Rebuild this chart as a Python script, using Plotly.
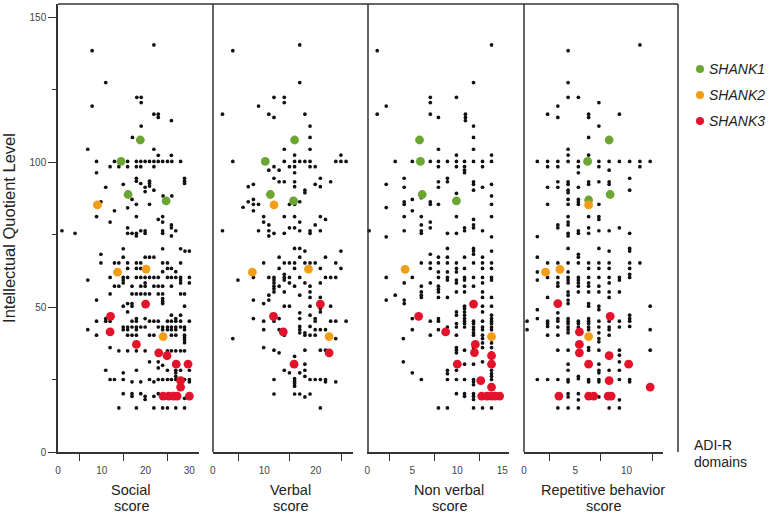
import plotly.graph_objects as go

# ---------------- data (x = ADI-R domain score, y = IQ) ----------------
# black dots, stored as rows: (IQ, [scores])
social_rows = [
    (140.4, [21.9]), (138.4, [7.8]), (127.4, [10.9]), (122.3, [18.0, 19.0]), (120.5, [19.0]),
    (119.3, [7.8]), (116.5, [21.9, 22.9]), (115.4, [22.9]), (114.3, [25.9]), (112.4, [19.0]),
    (108.5, [17.0]), (104.4, [6.8, 21.9]), (102.3, [22.9, 25.9]),
    (100.2, [8.8, 12.9, 15.9, 17.9, 18.9, 19.9, 20.9, 21.9, 22.9, 23.9, 25.0, 26.0, 28.0]),
    (98.4, [11.9, 13.9, 15.9, 17.9, 18.9, 21.9]), (96.3, [8.8]),
    (94.4, [17.9, 28.9]), (93.4, [17.9, 20.9, 28.9]), (92.6, [18.9, 20.9, 28.9]), (92.3, [14.9]),
    (91.7, [20.9]), (91.3, [10.9, 19.9]), (90.3, [21.9]), (89.8, [19.9]), (88.3, [24.0, 26.0]),
    (87.1, [16.9]), (86.3, [9.8]), (85.4, [17.9, 20.9]), (84.2, [15.9]), (83.2, [12.9]),
    (81.2, [8.8, 17.9, 23.9]), (80.2, [22.9]), (79.3, [11.9, 23.9]), (78.3, [25.9]),
    (77.3, [15.9, 25.9]), (76.3, [0.9, 18.9, 19.9, 23.9, 26.9]),
    (75.4, [3.9, 15.9, 16.9, 17.9, 19.9, 23.9]), (74.5, [17.9, 25.9]),
    (70.1, [14.9, 23.9, 28.0]), (69.3, [29.0, 30.0]), (68.2, [9.8]), (67.2, [14.9, 19.9, 20.9, 21.9]),
    (65.2, [9.8, 12.9, 13.9, 15.9, 17.9, 18.9, 23.9, 25.0, 28.0]),
    (63.3, [15.9, 17.9, 18.9, 25.0, 25.9]), (62.2, [23.9, 26.9]),
    (60.2, [11.9, 14.9, 15.9, 17.9, 18.9, 19.9, 20.9, 21.9, 22.9, 25.0, 25.9, 26.9, 28.0, 30.0]),
    (59.3, [6.8, 14.9, 28.0]), (58.3, [14.9, 19.9, 28.0, 30.0]),
    (57.2, [12.9, 13.9, 16.9, 18.9, 19.9, 21.9, 22.9, 23.9, 25.9]),
    (54.5, [11.9, 16.9, 17.9, 18.9, 19.9, 20.9, 22.9, 23.9, 28.0, 28.9]),
    (52.9, [23.9]), (52.4, [8.8]), (52.0, [23.9]), (51.2, [15.9, 16.9, 23.9]),
    (50.3, [14.9, 16.9, 28.9]), (48.3, [15.9]), (47.2, [25.9, 28.0]),
    (46.0, [10.9, 17.9, 19.9, 26.9]),
    (45.1, [8.8, 10.9, 11.9, 16.9, 17.9, 20.9, 21.9, 22.9, 25.0, 25.9, 26.9, 28.0, 30.0]),
    (43.1, [14.9, 15.9, 16.9, 17.9, 18.9, 19.9, 22.9, 23.9, 25.0, 25.9, 26.9, 28.0, 28.9]),
    (42.2, [6.8, 14.9, 15.9, 17.9, 23.9, 25.0, 25.9, 26.9, 28.9]),
    (40.3, [8.8, 15.9, 16.9, 17.9, 20.9, 21.9, 25.9, 26.9, 28.9]),
    (39.5, [28.9]), (38.6, [28.9]), (37.7, [28.9]), (36.0, [11.9]),
    (34.9, [13.9, 15.9, 17.9, 19.9, 25.0, 25.9, 26.9, 28.0, 28.9]),
    (31.1, [20.9, 22.9]), (29.9, [23.9]), (29.0, [22.9]),
    (28.2, [10.9, 17.9, 25.0, 26.9, 28.0, 30.0]), (27.3, [14.9, 26.9]), (26.1, [26.9]),
    (25.0, [11.9, 12.9, 14.9, 20.9, 22.9, 23.9, 25.0, 25.9, 26.9, 28.9, 30.0]),
    (24.2, [16.9, 18.9, 21.9, 30.0]),
    (20.1, [14.9, 16.9, 18.9, 22.9]), (19.2, [16.9, 19.9, 21.9, 25.0, 26.9]), (18.5, [28.9]),
    (18.1, [19.9]), (15.2, [13.9, 17.9, 21.9, 23.9, 25.0, 26.9, 28.9]),
]

verbal_rows = [
    (140.4, [16.9]), (138.4, [3.9]), (127.4, [16.9]), (122.3, [11.9, 13.9]), (120.5, [13.9]),
    (119.3, [8.9]), (116.5, [1.9, 10.9, 17.9]), (115.4, [11.9]), (112.4, [18.9]), (108.5, [18.9]),
    (104.4, [13.9, 18.9]), (102.4, [15.9, 24.9]),
    (100.2, [3.9, 13.9, 15.9, 16.9, 17.9, 18.9, 23.9, 24.9, 25.9]),
    (98.4, [11.9, 14.9, 15.9, 18.9, 19.9]), (97.2, [10.9, 12.9]), (96.3, [15.9]),
    (94.4, [11.9, 20.9]), (93.2, [12.9, 13.9, 15.9, 22.9]), (92.3, [7.9, 19.9]),
    (91.5, [6.9, 15.9, 20.9]), (90.3, [17.9]), (89.4, [17.9]),
    (87.1, [7.9, 15.9]), (86.3, [6.9, 16.9]), (85.4, [7.9, 8.9, 14.9, 15.9]), (84.4, [5.9]),
    (83.2, [7.9]), (81.2, [9.9, 13.9, 15.9, 20.9]), (80.2, [21.9]), (79.3, [9.9, 16.9]),
    (78.3, [10.9, 19.9]), (77.3, [14.9, 15.9]), (76.3, [1.9, 8.9, 10.9, 16.9, 18.9, 20.9]),
    (75.4, [11.9, 13.9, 18.9]), (74.5, [10.9]),
    (70.2, [15.9, 16.9]), (69.3, [17.9, 24.9]), (67.2, [12.9, 16.9, 21.9]),
    (65.2, [9.9, 13.9, 14.9, 15.9, 17.9, 18.9, 19.9, 23.9]),
    (63.3, [12.9, 15.9, 20.9, 24.9]), (61.3, [13.9]),
    (60.2, [7.9, 10.9, 11.9, 13.9, 14.9, 16.9, 21.9, 22.9, 23.9]),
    (59.3, [4.9, 11.9, 13.9]), (58.3, [11.9, 14.9, 17.9, 20.9]), (57.2, [11.9, 12.9, 15.9, 18.9]),
    (56.3, [11.9]), (55.2, [11.9, 13.9, 18.9]), (54.1, [10.9, 16.9]), (53.3, [18.9, 20.9]),
    (52.4, [7.9, 10.9]), (51.2, [9.9]), (50.3, [13.9, 14.9, 18.9, 22.9]), (49.5, [20.9]),
    (48.3, [20.9]), (48.0, [16.9]), (47.2, [18.9]), (46.0, [7.9, 12.9, 16.9, 19.9]),
    (45.1, [9.9, 11.9, 19.9, 22.9, 23.9, 25.9]), (43.3, [16.9, 18.9]),
    (42.2, [9.9, 12.9, 16.9, 19.9, 20.9, 21.9]), (41.1, [13.9, 16.9, 17.9]),
    (40.3, [13.9, 17.9, 18.9, 19.9]), (39.1, [3.9, 23.9]),
    (36.0, [9.9]), (35.1, [11.9, 17.9, 20.9, 21.9]), (34.2, [12.9]), (33.0, [15.9]),
    (30.3, [17.9]), (28.2, [13.9, 17.9]), (27.3, [14.9, 16.9]), (26.1, [17.9]),
    (25.3, [15.9]), (25.0, [11.9, 18.9, 19.9, 20.9, 21.9]), (24.4, [15.9]), (24.2, [21.9, 23.9]),
    (23.6, [15.9]), (22.7, [15.9]), (20.0, [11.9, 15.9, 16.9, 18.9]), (19.0, [17.9]),
    (15.2, [20.9]),
]

nonverbal_rows = [
    (140.4, [13.8]), (138.4, [1.1]), (127.4, [11.8]), (122.3, [7.0, 9.9]), (120.5, [7.0]),
    (119.3, [2.1]), (116.5, [1.1, 7.0, 10.9]), (115.4, [7.9, 10.9]), (114.3, [10.9]),
    (112.4, [11.8]), (108.5, [11.8]), (104.4, [7.9, 11.8]), (102.4, [9.9, 13.8]),
    (100.2, [3.1, 5.0, 7.0, 7.9, 8.9, 9.9, 10.8, 11.8, 12.8, 13.8]),
    (98.4, [7.9, 9.9, 10.8, 12.8]), (97.2, [10.8]), (96.3, [10.8]),
    (94.4, [4.1, 8.9]), (93.2, [7.9, 8.9, 11.8]), (92.3, [2.1, 11.8, 13.8]),
    (91.3, [4.1, 7.9, 12.8]), (90.3, [11.8]), (89.2, [9.9]), (88.3, [13.8]),
    (87.7, [6.0]), (87.1, [5.0]), (86.3, [4.1, 7.0]), (85.4, [4.1, 7.0, 7.9, 13.8]),
    (84.3, [2.1]), (83.2, [5.0]), (81.2, [4.1, 6.0, 9.9, 13.8]), (80.2, [11.8]), (79.3, [7.0]),
    (78.3, [6.0, 11.8]), (77.3, [7.0, 10.8, 11.8]), (76.3, [0.2, 4.1, 6.0, 10.8, 12.8]),
    (75.4, [6.0, 8.9, 9.9]), (74.2, [2.1, 13.8]),
    (70.2, [8.9, 11.8]), (69.3, [11.8, 13.8]), (68.2, [7.0, 11.8]),
    (67.2, [7.9, 8.9, 10.8, 12.8]),
    (65.2, [6.0, 7.0, 7.9, 8.9, 9.9, 11.8, 12.8, 13.8]),
    (63.3, [7.0, 9.9, 10.8, 12.8, 13.8]), (62.1, [7.9, 8.9, 9.9]),
    (60.2, [2.1, 5.0, 7.9, 8.9, 10.8, 11.8, 12.8, 13.8]),
    (59.3, [8.9, 9.9, 10.8, 13.8]), (58.3, [4.1, 7.0, 9.9, 12.8]),
    (57.2, [6.0, 7.9, 10.8, 11.8]), (56.1, [7.9]), (55.2, [6.0, 7.9, 9.9, 10.8, 12.8]),
    (54.1, [3.1, 6.0]), (53.3, [6.0, 7.9, 8.9, 12.8, 13.8]), (52.4, [2.1, 4.1]), (51.2, [4.1]),
    (50.3, [10.8, 12.8, 13.8]), (49.5, [10.8]), (48.3, [9.9, 10.8, 12.8]),
    (47.2, [9.9, 10.8, 13.8]), (46.0, [5.0, 7.9, 10.8, 13.8]),
    (45.1, [7.0, 7.9, 10.8, 11.8, 12.8, 13.8]), (44.3, [9.9, 10.8, 11.8, 13.8]),
    (43.1, [8.9, 9.9, 10.8, 11.8, 12.8, 13.8]), (42.2, [5.0, 7.9, 11.8, 12.8, 13.8]),
    (41.1, [11.8]), (40.3, [7.0, 9.9, 11.8, 12.8]), (39.1, [4.0, 12.8]), (37.6, [12.8, 13.8]),
    (36.0, [9.9, 11.8, 12.8, 13.8]), (35.1, [9.9, 10.8]), (34.2, [9.9, 13.8]),
    (31.1, [4.0, 12.8]), (30.3, [10.8, 11.8]), (28.2, [8.9, 9.9, 13.8]), (27.3, [5.0]),
    (27.0, [8.9, 13.8]), (26.1, [13.8]), (25.0, [6.0, 8.9, 9.9, 10.8, 11.8, 13.8]),
    (24.2, [11.8]), (23.2, [11.8]), (20.1, [9.9, 10.8, 11.8]), (19.2, [10.8, 11.8, 12.8]),
    (18.1, [11.8]), (15.2, [7.9, 8.9, 11.8, 12.8, 13.8]),
]

repetitive_rows = [
    (140.4, [11.3]), (138.4, [4.3]), (127.4, [4.3]), (122.3, [4.3, 5.3]), (120.5, [7.3]),
    (119.3, [3.3]), (116.5, [2.3, 6.3, 9.3]), (115.4, [3.3, 6.3]), (112.4, [7.3]),
    (108.5, [6.3]), (104.4, [4.3]), (102.4, [4.3, 6.3]),
    (100.2, [1.3, 2.3, 3.3, 4.3, 5.3, 7.3, 8.3, 9.3, 10.3, 11.3, 12.3]),
    (98.4, [2.3, 3.3, 5.3, 7.3, 11.3]), (97.2, [8.3]), (96.3, [5.3]), (94.4, [10.3]),
    (93.2, [3.3, 4.3, 6.3, 7.3, 8.3]), (92.3, [4.3, 6.3, 8.3]), (91.3, [2.3, 3.3, 5.3]),
    (90.3, [4.3, 10.3]), (89.4, [4.3]), (87.1, [4.3, 5.3]), (86.3, [5.3]),
    (85.4, [2.3, 4.3, 5.3, 7.3]), (81.2, [4.3, 6.3, 7.3]), (80.2, [7.3]), (79.3, [4.3]),
    (78.3, [3.3, 4.3]), (77.3, [3.3, 6.3, 9.3]), (76.3, [5.3, 7.3, 8.3]),
    (75.4, [4.3, 5.3, 6.3, 10.3]), (74.5, [4.3]), (74.3, [1.3]),
    (70.2, [4.3, 7.3, 10.3]), (69.3, [8.3, 10.3]), (68.2, [5.3]), (67.2, [1.3, 5.3]),
    (65.2, [2.3, 3.3, 4.3, 5.3, 6.3, 7.3, 8.3, 10.3, 11.3]),
    (63.3, [6.3, 7.3, 8.3, 10.3]), (62.1, [1.3, 4.3]), (61.3, [10.3]),
    (60.2, [2.3, 3.3, 4.3, 5.3, 6.3, 7.3, 8.3, 9.3, 10.3]),
    (59.3, [1.3, 4.3, 5.3, 9.3]), (58.3, [3.3, 4.3, 5.3, 6.3, 8.3]),
    (57.2, [3.3, 5.3, 6.3, 7.3]), (55.2, [4.3, 5.3, 6.3, 7.3, 8.3, 9.3]),
    (54.1, [4.3]), (53.3, [2.3, 8.3]), (52.4, [4.3]), (51.2, [4.3, 6.3]),
    (50.3, [6.3, 7.3, 12.3]), (49.1, [1.3, 7.3]), (48.0, [3.3]), (47.2, [10.3]),
    (46.0, [1.3, 3.3, 4.3, 6.3, 10.3]), (45.1, [0.3, 2.3, 3.3, 4.3, 5.3, 6.3, 7.3, 8.3, 9.3, 10.3]),
    (44.3, [2.3, 4.3, 5.3, 6.3]), (43.3, [2.3, 10.3]), (43.1, [3.3, 4.3, 5.3, 6.3, 7.3, 8.3, 9.3]),
    (42.2, [0.3, 4.3, 6.3, 8.3, 12.3]), (41.1, [4.3, 7.3]), (40.3, [2.3, 3.3, 8.3]),
    (39.1, [7.3]), (38.0, [7.3]), (36.0, [6.3]), (35.1, [3.3, 4.3, 6.3, 7.3, 9.3, 12.3]),
    (33.4, [9.3]), (31.1, [9.3]), (30.3, [4.3, 7.3]), (28.2, [4.3, 7.3, 8.3, 9.3]),
    (27.3, [7.3]), (26.1, [5.3]), (25.3, [5.3]),
    (25.0, [1.3, 2.3, 3.3, 4.3, 6.3, 7.3, 9.3, 10.3]), (24.2, [4.3, 6.3, 7.3, 10.3]),
    (20.1, [4.3, 5.3]), (19.0, [4.3, 7.3]), (18.0, [5.3, 9.3]),
    (15.2, [3.3, 4.3, 5.3, 8.3, 9.3]),
]

# carriers: (score, IQ)
social_shank1 = [(18.8, 107.6), (14.4, 100.2), (16.0, 88.8), (24.7, 86.6)]
social_shank2 = [(9.0, 85.2), (13.6, 62.0), (20.1, 63.1), (24.0, 39.8)]
social_shank3 = [(20.0, 51.0), (12.0, 46.8), (11.9, 41.4), (17.9, 37.1), (23.0, 34.2), (24.9, 33.2),
                 (27.0, 30.3), (29.7, 30.3), (28.0, 24.6), (28.0, 22.4), (24.0, 19.3), (25.3, 19.3),
                 (26.4, 19.3), (27.2, 19.3), (30.0, 19.3)]
verbal_shank1 = [(15.9, 107.6), (10.2, 100.2), (11.2, 88.8), (15.7, 86.6)]
verbal_shank2 = [(11.9, 85.2), (7.7, 62.0), (18.6, 63.1), (22.6, 39.8)]
verbal_shank3 = [(20.9, 51.0), (11.8, 46.8), (13.7, 41.4), (22.6, 34.2), (15.8, 30.3)]
nonverbal_shank1 = [(5.8, 107.6), (5.9, 100.2), (6.1, 88.8), (9.9, 86.6)]
nonverbal_shank2 = [(4.2, 63.0), (13.8, 39.8)]
nonverbal_shank3 = [(11.8, 51.0), (5.7, 46.8), (8.7, 41.4), (12.0, 37.1), (11.9, 34.3), (13.8, 33.2),
                    (10.0, 30.3), (13.8, 30.3), (12.6, 24.6), (13.8, 22.4), (12.7, 19.3), (13.3, 19.3),
                    (13.8, 19.3), (14.2, 19.3), (14.7, 19.3)]
repetitive_shank1 = [(8.3, 107.6), (6.2, 100.2), (8.4, 88.8), (6.3, 86.9)]
repetitive_shank2 = [(6.3, 85.2), (2.1, 62.0), (3.5, 63.0), (6.3, 39.8)]
repetitive_shank3 = [(3.3, 51.2), (8.4, 46.8), (5.4, 41.4), (5.4, 37.1), (5.4, 34.2), (8.3, 33.2),
                     (6.3, 30.3), (10.2, 30.3), (8.3, 24.6), (12.3, 22.4), (3.4, 19.3), (6.3, 19.3),
                     (6.8, 19.3), (8.2, 19.3), (8.5, 19.3)]

panel_titles = [("Social", "score"), ("Verbal", "score"), ("Non verbal", "score"),
                ("Repetitive behavior", "score")]
gene_names = ["SHANK1", "SHANK2", "SHANK3"]
y_ticks = [0, 50, 100, 150]
x_major = [[0, 10, 20, 30], [0, 10, 20], [0, 5, 10, 15], [0, 5, 10]]
x_minor = [[5, 15, 25], [5, 15, 25], [2.5, 7.5, 12.5], [2.5, 7.5, 12.5]]

# ---------------- styling ----------------
GENE_COLORS = ["#6aa631", "#f39c16", "#e2132b"]
AX = "#333333"
FONT = "Arial, 'Liberation Sans', sans-serif"
TICKFONT = "'Liberation Sans Narrow', 'Arial Narrow', 'Liberation Sans', Arial, sans-serif"

domains = [[0.0, 0.2274], [0.2495, 0.4758], [0.4989, 0.7274], [0.7516, 0.9763]]
ranges = [[0, 32.2], [0, 27.24], [0, 15.74], [0, 13.58]]
W, H = 771, 514
ML, MR, MT, MB = 58, 93, 4, 62

fig = go.Figure()

all_rows = [social_rows, verbal_rows, nonverbal_rows, repetitive_rows]
all_genes = [
    [social_shank1, social_shank2, social_shank3],
    [verbal_shank1, verbal_shank2, verbal_shank3],
    [nonverbal_shank1, nonverbal_shank2, nonverbal_shank3],
    [repetitive_shank1, repetitive_shank2, repetitive_shank3],
]

for i in range(4):
    xa = "x" if i == 0 else f"x{i+1}"
    xs, ys = [], []
    for iq, scores in all_rows[i]:
        for s in scores:
            xs.append(s)
            ys.append(iq)
    fig.add_trace(go.Scatter(x=xs, y=ys, mode="markers", xaxis=xa, yaxis="y",
                             marker=dict(size=3.7, color="#111111"), showlegend=False,
                             cliponaxis=False, hoverinfo="skip"))
    for g in range(3):
        pts = all_genes[i][g]
        fig.add_trace(go.Scatter(x=[p[0] for p in pts], y=[p[1] for p in pts], mode="markers",
                                 xaxis=xa, yaxis="y", name=gene_names[g],
                                 marker=dict(size=8.8, color=GENE_COLORS[g], line=dict(width=0)),
                                 showlegend=False, cliponaxis=False))

layout = dict(
    width=W, height=H, margin=dict(l=ML, r=MR, t=MT, b=MB),
    paper_bgcolor="white", plot_bgcolor="white",
    font=dict(family=FONT, color="#333"),
    showlegend=False,
    yaxis=dict(range=[0, 154.5], domain=[0, 1], anchor="x", showgrid=False, zeroline=False,
               showline=True, linecolor=AX, linewidth=1.5,
               tickmode="array", tickvals=y_ticks, ticks="outside", ticklen=8, tickwidth=1.2,
               tickcolor=AX, tickfont=dict(family=TICKFONT, size=10, color="#444"),
               minor=dict(tickmode="array", tickvals=[25, 75, 125], ticks="outside", ticklen=4,
                          tickwidth=1.2, tickcolor=AX),
               title=dict(text="Intellectual Quotient Level", font=dict(size=16.5, color="#222"),
                          standoff=12)),
)
for i in range(4):
    key = "xaxis" if i == 0 else f"xaxis{i+1}"
    layout[key] = dict(domain=domains[i], range=ranges[i], anchor="y", showgrid=False,
                       zeroline=False, showline=True, linecolor=AX, linewidth=1.5,
                       tickmode="array", tickvals=x_major[i], ticks="outside", ticklen=8,
                       tickcolor="rgba(0,0,0,0)",
                       tickfont=dict(family=TICKFONT, size=10, color="#444"),
                       minor=dict(tickmode="array", tickvals=x_minor[i], ticks="outside",
                                  ticklen=7, tickwidth=1.2, tickcolor=AX))
fig.update_layout(**layout)

# frame: top line and panel separators
shapes = [dict(type="line", xref="paper", yref="paper", x0=0, x1=1, y0=1, y1=1,
               line=dict(color=AX, width=1.5))]
for xp in [0.25, 0.5, 0.7516, 1.0]:
    shapes.append(dict(type="line", xref="paper", yref="paper", x0=xp, x1=xp, y0=0, y1=1,
                       line=dict(color=AX, width=1.5)))

def px2paper_x(px):
    return (px - ML) / (W - ML - MR)

def py2paper_y(py):
    return (H - MB - py) / (H - MT - MB)

# legend drawn as circles + italic labels
leg_rows = [69, 95, 121]
for g in range(3):
    cy = py2paper_y(leg_rows[g])
    cx = px2paper_x(700)
    shapes.append(dict(type="circle", xref="paper", yref="paper", xsizemode="pixel", ysizemode="pixel",
                       xanchor=cx, yanchor=cy, x0=-4, x1=4, y0=-4, y1=4,
                       fillcolor=GENE_COLORS[g], line=dict(width=0)))
fig.update_layout(shapes=shapes)

annotations = []
for g in range(3):
    annotations.append(dict(text=f"<i>{gene_names[g]}</i>", xref="paper", yref="paper",
                            x=px2paper_x(707), y=py2paper_y(leg_rows[g]), xanchor="left",
                            yanchor="middle", showarrow=False, font=dict(size=14, color="#222")))

title_centers = [131, 290.5, 449, 603]
for i in range(4):
    for j, line_y in enumerate([490, 506]):
        annotations.append(dict(text=panel_titles[i][j], xref="paper", yref="paper",
                                x=px2paper_x(title_centers[i]), y=py2paper_y(line_y),
                                xanchor="center", yanchor="middle", showarrow=False,
                                font=dict(size=14.5, color="#222")))
for txt, line_y in [("ADI-R", 445), ("domains", 462)]:
    annotations.append(dict(text=txt, xref="paper", yref="paper",
                            x=px2paper_x(692), y=py2paper_y(line_y), xanchor="left",
                            yanchor="middle", showarrow=False, font=dict(size=14, color="#222")))
fig.update_layout(annotations=annotations)

fig.write_html("out.html", config={"displayModeBar": False},
               post_script="document.body.style.margin='0';")
